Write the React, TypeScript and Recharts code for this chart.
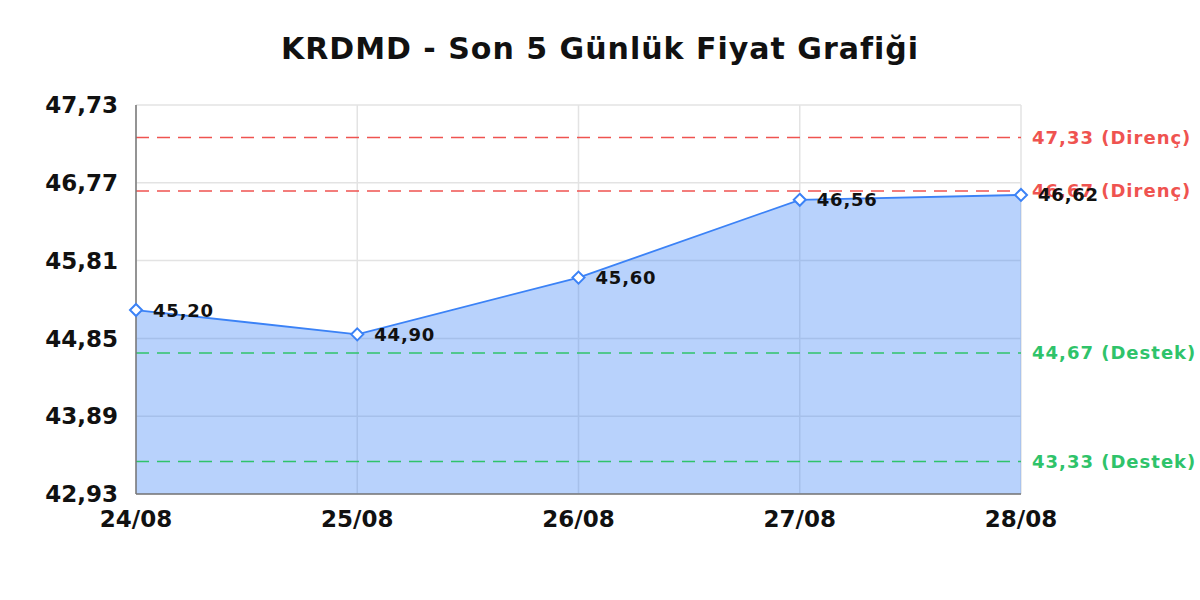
import {
  AreaChart,
  Area,
  XAxis,
  YAxis,
  CartesianGrid,
  ReferenceLine,
} from "recharts";

const dates = ["24/08", "25/08", "26/08", "27/08", "28/08"];
const prices = [45.2, 44.9, 45.6, 46.56, 46.62];
const yTicks = [42.93, 43.89, 44.85, 45.81, 46.77, 47.73];
const resistance = [47.33, 46.67];
const support = [44.67, 43.33];

const FONT = "'DejaVu Sans', sans-serif";
const fmt = (v: number) => v.toFixed(2).replace(".", ",");

const data = dates.map((d, i) => ({ date: d, price: prices[i] }));

function Diamond(props: any) {
  const { cx, cy } = props;
  if (cx == null || cy == null) return null;
  const r = 6;
  return (
    <path
      d={`M${cx},${cy - r}L${cx + r},${cy}L${cx},${cy + r}L${cx - r},${cy}Z`}
      fill="#fff"
      stroke="#3b82f6"
      strokeWidth={2}
    />
  );
}

function PriceLabel(props: any) {
  const { x, y, value } = props;
  return (
    <text
      x={x + 17}
      y={y}
      dy="0.36em"
      fontFamily={FONT}
      fontWeight="bold"
      fontSize={18}
      letterSpacing={0.8}
      fill="#111"
    >
      {fmt(value)}
    </text>
  );
}

// label drawn just right of the plot area, at the line's height
function refLabel(value: number, kind: string, color: string) {
  return (props: any) => {
    const { viewBox } = props;
    return (
      <text
        x={viewBox.x + viewBox.width + 11}
        y={viewBox.y}
        dy="0.36em"
        fontFamily={FONT}
        fontWeight="bold"
        fontSize={18}
        letterSpacing={1}
        fill={color}
      >
        {`${fmt(value)} (${kind})`}
      </text>
    );
  };
}

export default function App() {
  return (
    <div style={{ position: "absolute", left: 0, top: 0, width: 1200, height: 600, background: "#fff" }}>
      <div
        style={{
          position: "absolute",
          top: 34,
          width: 1200,
          textAlign: "center",
          fontFamily: FONT,
          fontWeight: "bold",
          fontSize: 30,
          lineHeight: "30px",
          letterSpacing: 1,
          color: "#111",
        }}
      >
        KRDMD - Son 5 Günlük Fiyat Grafiği
      </div>
      <AreaChart
        width={1200}
        height={600}
        data={data}
        margin={{ top: 105, right: 179, left: 0, bottom: 76 }}
      >
        <CartesianGrid stroke="#e3e3e3" strokeWidth={1.5} />
        <XAxis
          dataKey="date"
          axisLine={{ stroke: "#777", strokeWidth: 1.5 }}
          tickLine={false}
          tickMargin={11}
          height={30}
          interval={0}
          tick={{ fontFamily: FONT, fontWeight: "bold", fontSize: 23, fill: "#111" }}
        />
        <YAxis
          domain={[42.93, 47.73]}
          ticks={yTicks}
          width={136}
          axisLine={{ stroke: "#777", strokeWidth: 1.5 }}
          tickLine={false}
          tickMargin={12}
          tickFormatter={fmt}
          tick={{ fontFamily: FONT, fontWeight: "bold", fontSize: 23, fill: "#111" }}
        />
        <Area
          type="linear"
          dataKey="price"
          stroke="#3b82f6"
          strokeWidth={1.8}
          fill="#3b82f6"
          fillOpacity={0.36}
          dot={<Diamond />}
          activeDot={false}
          label={<PriceLabel />}
          isAnimationActive={false}
        />
        {resistance.map((v) => (
          <ReferenceLine
            key={`r${v}`}
            y={v}
            stroke="#ef5350"
            strokeWidth={1.5}
            strokeDasharray="13 8"
            label={refLabel(v, "Direnç", "#ef5350")}
          />
        ))}
        {support.map((v) => (
          <ReferenceLine
            key={`s${v}`}
            y={v}
            stroke="#2fc36a"
            strokeWidth={1.5}
            strokeDasharray="13 8"
            label={refLabel(v, "Destek", "#2fc36a")}
          />
        ))}
      </AreaChart>
    </div>
  );
}
